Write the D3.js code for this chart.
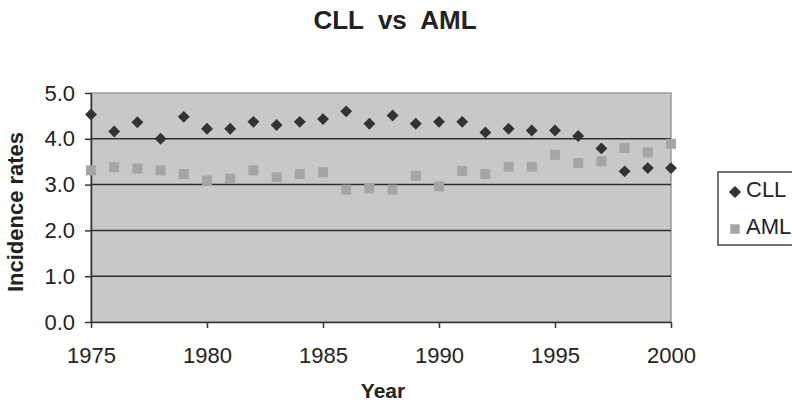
<!doctype html>
<html>
<head>
<script src="https://d3js.org/d3.v7.min.js"></script>
<style>
  body { margin: 0; background: #fff; }
  text { font-family: "Liberation Sans", Arial, sans-serif; fill: #222; }
</style>
</head>
<body>
<div id="chart"></div>
<script>
// data
var years = d3.range(1975, 2001);
var cll = [4.53, 4.16, 4.36, 4.00, 4.48, 4.22, 4.22, 4.37, 4.30, 4.37, 4.43, 4.60, 4.33,
           4.51, 4.33, 4.37, 4.37, 4.14, 4.22, 4.18, 4.18, 4.06, 3.79, 3.29, 3.36, 3.36];
var aml = [3.31, 3.38, 3.35, 3.31, 3.23, 3.09, 3.13, 3.31, 3.16, 3.23, 3.27, 2.89, 2.92,
           2.89, 3.19, 2.96, 3.30, 3.23, 3.39, 3.39, 3.65, 3.47, 3.51, 3.80, 3.70, 3.89];
var yTicks = [0, 1, 2, 3, 4, 5];
var xTicks = [1975, 1980, 1985, 1990, 1995, 2000];

var W = 792, H = 404;
var margin = {top: 93, right: 121, bottom: 82, left: 91},
    width = W - margin.left - margin.right,
    height = H - margin.top - margin.bottom;

var svg = d3.select("#chart").append("svg")
    .attr("width", W).attr("height", H);

// title
svg.append("text")
    .attr("x", 395).attr("y", 29)
    .attr("text-anchor", "middle")
    .style("font-size", "26px").style("font-weight", "bold")
    .attr("xml:space", "preserve")
    .text("CLL  vs  AML");

var g = svg.append("g")
    .attr("transform", "translate(" + margin.left + "," + margin.top + ")");

var x = d3.scaleLinear().domain([1975, 2000]).range([0, width]);
var y = d3.scaleLinear().domain([0, 5]).range([height, 0]);

// plot background
g.append("rect")
    .attr("width", width).attr("height", height)
    .attr("fill", "#c8c8c8")
    .attr("stroke", "#9a9a9a").attr("stroke-width", 1.5);

// gridlines
g.selectAll(".grid").data(yTicks.filter(function(d) { return d > 0 && d < 5; }))
  .enter().append("line")
    .attr("x1", 0).attr("x2", width)
    .attr("y1", function(d) { return y(d); })
    .attr("y2", function(d) { return y(d); })
    .attr("stroke", "#2e2e2e").attr("stroke-width", 1.5);

// y axis
var yAxis = g.append("g")
    .call(d3.axisLeft(y).tickValues(yTicks).tickFormat(d3.format(".1f")).tickSize(6).tickSizeOuter(0));
yAxis.select(".domain").attr("stroke", "#333").attr("stroke-width", 1.5);
yAxis.selectAll(".tick line").attr("stroke", "#333").attr("stroke-width", 1.5);
yAxis.selectAll(".tick text").style("font-size", "22px").attr("x", -16).attr("fill", "#222");

// x axis
var xAxis = g.append("g")
    .attr("transform", "translate(0," + height + ")")
    .call(d3.axisBottom(x).tickValues(xTicks).tickFormat(d3.format("d")).tickSize(6).tickSizeOuter(0));
xAxis.select(".domain").attr("stroke", "#333").attr("stroke-width", 1.5);
xAxis.selectAll(".tick line").attr("stroke", "#333").attr("stroke-width", 1.5);
xAxis.selectAll(".tick text").style("font-size", "22px").attr("y", 41).attr("dy", 0).attr("fill", "#222");

// axis labels
svg.append("text")
    .attr("transform", "translate(23,212) rotate(-90)")
    .attr("text-anchor", "middle")
    .style("font-size", "22px").style("font-weight", "bold")
    .text("Incidence rates");

svg.append("text")
    .attr("x", 383).attr("y", 398)
    .attr("text-anchor", "middle")
    .style("font-size", "21px").style("font-weight", "bold")
    .text("Year");

var diamond = d3.symbol().type(d3.symbolDiamond2).size(90);
var square = d3.symbol().type(d3.symbolSquare).size(100);

// AML squares
g.selectAll(".aml").data(aml).enter().append("path")
    .attr("d", square)
    .attr("transform", function(d, i) { return "translate(" + x(years[i]) + "," + y(d) + ")"; })
    .attr("fill", "#a5a5a5");

// CLL diamonds
g.selectAll(".cll").data(cll).enter().append("path")
    .attr("d", diamond)
    .attr("transform", function(d, i) { return "translate(" + x(years[i]) + "," + y(d) + ")"; })
    .attr("fill", "#333");

// legend
var lg = svg.append("g").attr("transform", "translate(718,172)");
lg.append("rect").attr("width", 80).attr("height", 73)
    .attr("fill", "#fff").attr("stroke", "#444").attr("stroke-width", 1.5);
lg.append("path").attr("d", d3.symbol().type(d3.symbolDiamond2).size(95))
    .attr("transform", "translate(17,20)").attr("fill", "#333");
lg.append("text").attr("x", 28).attr("y", 25).style("font-size", "22px").text("CLL");
lg.append("path").attr("d", d3.symbol().type(d3.symbolSquare).size(90))
    .attr("transform", "translate(17,57)").attr("fill", "#a5a5a5");
lg.append("text").attr("x", 28).attr("y", 62).style("font-size", "22px").text("AML");
</script>
</body>
</html>
